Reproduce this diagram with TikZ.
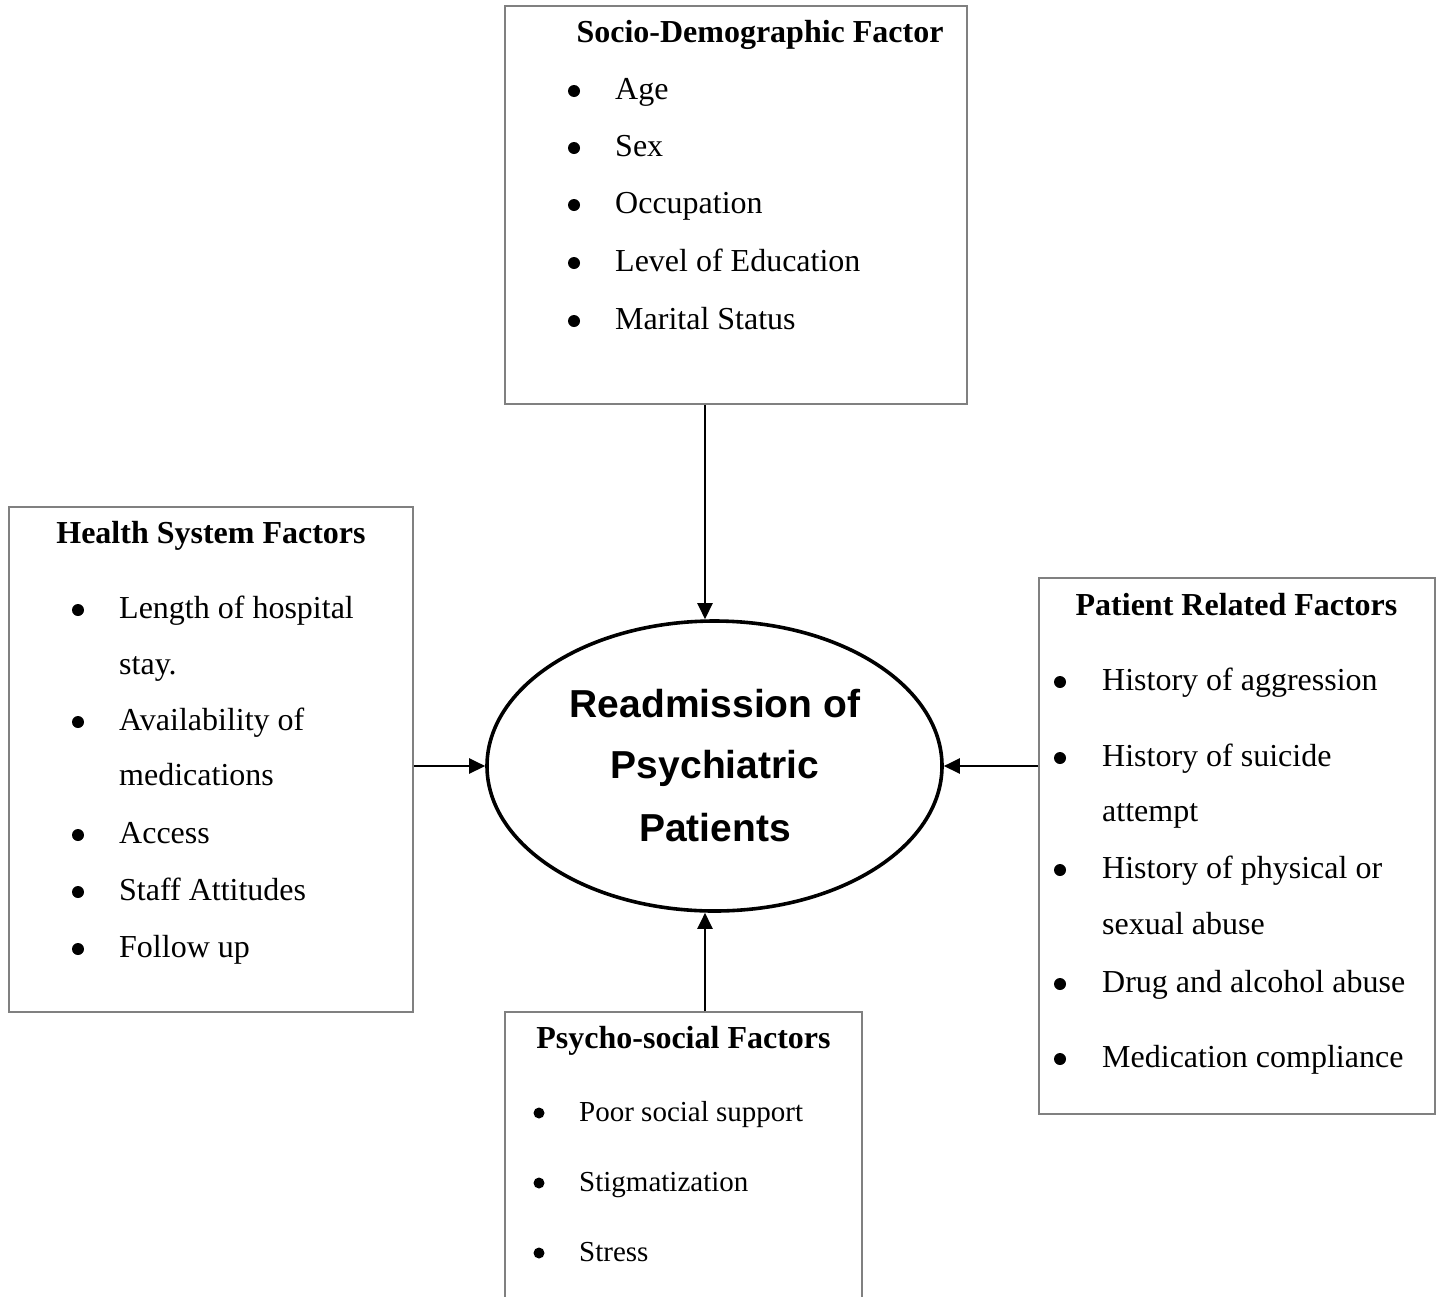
\documentclass[tikz,border=0pt]{standalone}
\usepackage{fontspec}
\setmainfont{Liberation Serif}
\newfontfamily\arialfont{Liberation Sans}
\usetikzlibrary{arrows.meta,shapes.geometric}
\begin{document}
\begin{tikzpicture}[x=1pt,y=-1pt,
  box/.style={draw=black!50,line width=1.5pt,rectangle,inner sep=0pt},
  arr/.style={draw=black,line width=2.4pt,-{Triangle[length=16pt,width=15pt]}},
  ttlstyle/.style={inner sep=0pt,anchor=base,font=\fontsize{32}{38}\selectfont\bfseries},
  itmstyle/.style={inner sep=0pt,anchor=base west,font=\fontsize{32}{38}\selectfont},
  smallitm/.style={inner sep=0pt,anchor=base west,font=\fontsize{29}{34}\selectfont},
  centertext/.style={inner sep=0pt,anchor=base,font=\fontsize{39}{46}\selectfont\arialfont\bfseries}]
\useasboundingbox (0,0) rectangle (1437,1296);
\clip (0,0) rectangle (1437,1296);
\fill[white] (0,0) rectangle (1437,1296);
% boxes
\node[box,minimum width=462pt,minimum height=398pt] (sd) at (736,205) {};
\node[box,minimum width=404pt,minimum height=505pt] (hs) at (211,759.5) {};
\node[box,minimum width=396pt,minimum height=536pt] (pr) at (1237,846) {};
\node[box,minimum width=357pt,minimum height=320pt] (ps) at (683.5,1172) {};
% ellipse
\node[draw=black,line width=3.6pt,ellipse,minimum width=455pt,minimum height=290pt,inner sep=0pt] (ell) at (714.5,766) {};
\node[centertext] (e1) at (715,717) {Readmission of};
\node[centertext] (e2) at (715,778) {Psychiatric};
\node[centertext] (e3) at (715,841) {Patients};
% titles
\node[ttlstyle] (sdt) at (760,42) {Socio-Demographic Factor};
\node[ttlstyle] (hst) at (211,543) {Health System Factors};
\node[ttlstyle] (prt) at (1236.5,615) {Patient Related Factors};
\node[ttlstyle] (pst) at (683.5,1048) {Psycho-social Factors};
% socio-demographic items
\foreach \yy/\tt [count=\i] in {99/Age,156/Sex,213/Occupation,271/Level of Education,329/Marital Status}{
  \fill (574,{\yy-8}) circle (6pt);
  \node[itmstyle] (sdi\i) at (615,\yy) {\tt};
}
% health system items
\foreach \yy in {618,730,843,900,957}{\fill (78,{\yy-8}) circle (6pt);}
\node[itmstyle] (hs1) at (119,618) {Length of hospital};
\node[itmstyle] (hs2) at (119,674) {stay.};
\node[itmstyle] (hs3) at (119,730) {Availability of};
\node[itmstyle] (hs4) at (119,785) {medications};
\node[itmstyle] (hs5) at (119,843) {Access};
\node[itmstyle] (hs6) at (119,900) {Staff Attitudes};
\node[itmstyle] (hs7) at (119,957) {Follow up};
% patient related items
\foreach \yy in {690,766,878,992,1067}{\fill (1060,{\yy-8}) circle (6pt);}
\node[itmstyle] (pr1) at (1102,690) {History of aggression};
\node[itmstyle] (pr2) at (1102,766) {History of suicide};
\node[itmstyle] (pr3) at (1102,821) {attempt};
\node[itmstyle] (pr4) at (1102,878) {History of physical or};
\node[itmstyle] (pr5) at (1102,934) {sexual abuse};
\node[itmstyle] (pr6) at (1102,992) {Drug and alcohol abuse};
\node[itmstyle] (pr7) at (1102,1067) {Medication compliance};
% psycho-social items
\foreach \yy/\tt [count=\i] in {1121/Poor social support,1191/Stigmatization,1261/Stress}{
  \fill (539,{\yy-8}) circle (5.5pt);
  \node[smallitm] (psi\i) at (579,\yy) {\tt};
}
% connectors
\draw[arr] ([xshift=-31pt]sd.south) -- ([xshift=-9.5pt]ell.north);
\draw[arr] ([xshift=21.5pt]ps.north) -- ([xshift=-9.5pt]ell.south);
\draw[arr] (hs.east |- ell.west) -- (ell.west);
\draw[arr] (pr.west |- ell.east) -- (ell.east);
\end{tikzpicture}
\end{document}
